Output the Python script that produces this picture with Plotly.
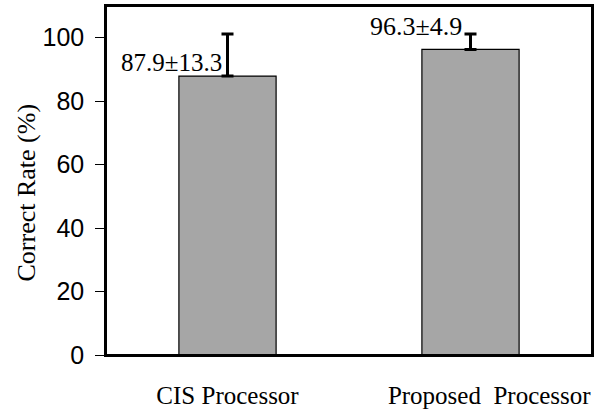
import plotly.graph_objects as go

categories = ["CIS Processor", "Proposed  Processor"]
means = [87.9, 96.3]
sds = [13.3, 4.9]
tick_labels = ["CIS Processor", "\u00a0\u00a0\u00a0\u00a0\u00a0\u00a0Proposed\u00a0\u00a0Processor"]
y_ticks = [0, 20, 40, 60, 80, 100]
y_title = "Correct Rate (%)"

fig = go.Figure()
fig.add_trace(go.Bar(
    x=categories, y=means,
    width=0.4,
    marker=dict(color="#a6a6a6", line=dict(color="black", width=1.2)),
    error_y=dict(type="data", symmetric=False, array=sds, arrayminus=[0, 0],
                 color="black", thickness=3, width=6),
))

serif = "Liberation Serif"
sans = "Liberation Sans"

# value labels
fig.add_annotation(x=categories[0], y=means[0], text=f"{means[0]}\u00b1{sds[0]}",
                   showarrow=False, xanchor="right", yanchor="bottom",
                   xshift=-4, yshift=-2, font=dict(family=serif, size=25, color="black"))
fig.add_annotation(x=categories[1], y=means[1] + sds[1], text=f"{means[1]}\u00b1{sds[1]}",
                   showarrow=False, xanchor="right", yanchor="middle",
                   xshift=-7, yshift=7, font=dict(family=serif, size=26, color="black"))

# y-axis title, placed slightly below the plot's vertical centre as in the reference
fig.add_annotation(xref="paper", yref="paper", x=0, y=0.5, text=y_title,
                   textangle=-90, showarrow=False, xanchor="center", yanchor="middle",
                   xshift=-80, yshift=-12, font=dict(family=serif, size=26, color="black"))

# plot frame
fig.add_shape(type="rect", xref="paper", yref="paper", x0=0, x1=1, y0=0, y1=1,
              line=dict(color="black", width=2), fillcolor="rgba(0,0,0,0)", layer="above")

fig.update_layout(
    width=597, height=410,
    margin=dict(l=106, r=5, t=6, b=55),
    paper_bgcolor="white", plot_bgcolor="white",
    showlegend=False,
    xaxis=dict(tickvals=categories, ticktext=tick_labels, range=[-0.5, 1.5],
               showline=True, linecolor="black", linewidth=1.5, mirror=True,
               ticks="", showgrid=False, automargin=False, ticklabelstandoff=17,
               tickfont=dict(family=serif, size=25, color="black")),
    yaxis=dict(range=[0, 110], tickvals=y_ticks, showline=True, linecolor="black",
               linewidth=1.5, mirror=True, ticks="outside", ticklen=9, tickwidth=1,
               tickcolor="black", showgrid=False, zeroline=False, automargin=False,
               ticklabelstandoff=6,
               tickfont=dict(family=sans, size=25, color="black")),
)

fig.write_html("out.html", config={"displayModeBar": False},
               post_script="document.body.style.margin='0';document.body.style.overflow='hidden';")
